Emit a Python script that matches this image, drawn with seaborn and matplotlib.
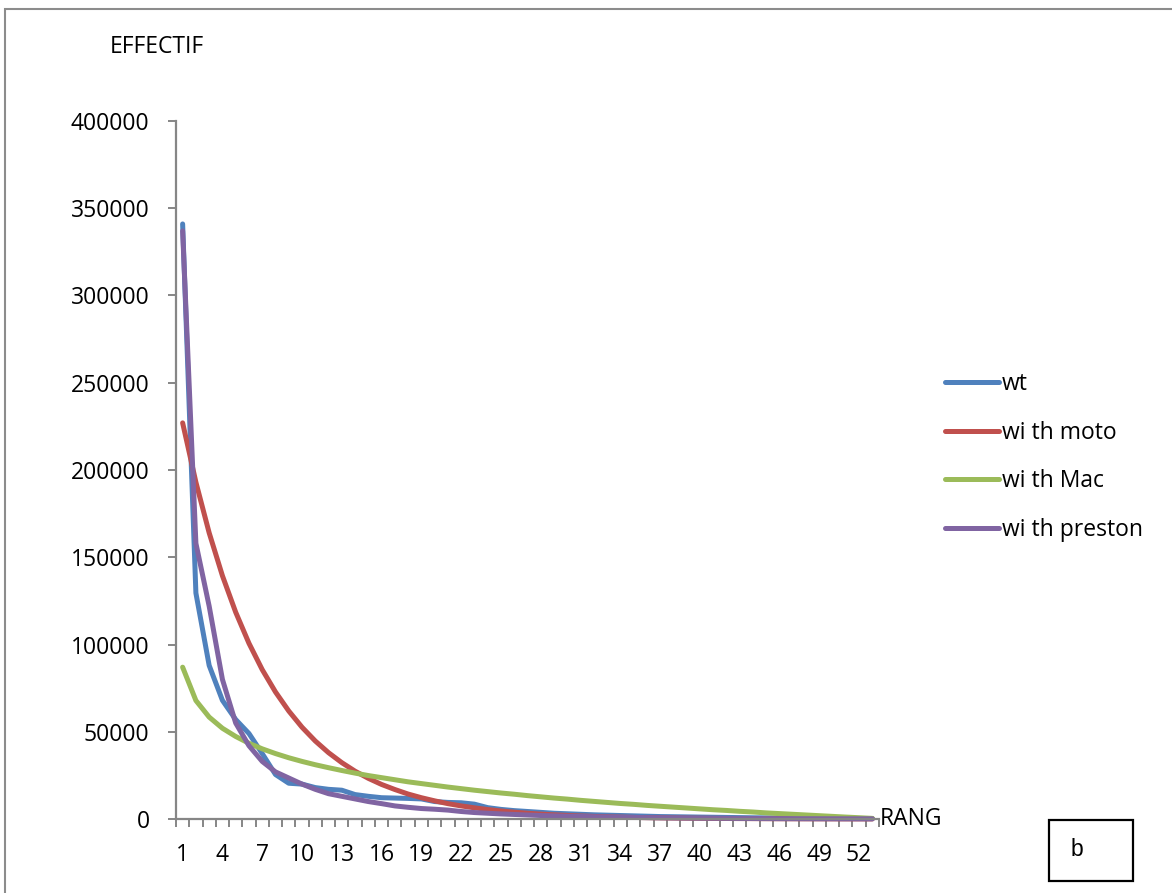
import matplotlib
matplotlib.use("Agg")
import numpy as np
import pandas as pd
import matplotlib.pyplot as plt
import seaborn as sns
from matplotlib.patches import Rectangle

# Rank (category axis)
RANG = list(range(1, 54))

# Observed abundances
WT = [341000, 129500, 88000, 68000, 57000, 49000, 37500, 25500, 20500, 20000,
      18000, 17000, 16500, 14000, 13000, 12200, 12000, 11800, 11500, 10000,
      9500, 9300, 8500, 6500, 5500, 4800, 4300, 3800, 3300, 3000,
      2700, 2400, 2200, 2000, 1800, 1600, 1400, 1300, 1200, 1100,
      1000, 900, 800, 700, 650, 600, 550, 500, 450, 400,
      350, 300, 250]

# Motomura fit
MOTO = [227000, 193000, 164000, 139400, 118500, 100700, 85600, 72800, 61900, 52600,
        44700, 38000, 32300, 27400, 23300, 19800, 16900, 14300, 12200, 10400,
        8800, 7500, 6400, 5400, 4600, 3900, 3300, 2800, 2400, 2040,
        1730, 1470, 1250, 1060, 900, 770, 650, 555, 470, 400,
        340, 290, 245, 210, 178, 151, 128, 109, 93, 79,
        67, 57, 48]

# MacArthur fit
MAC = [87000, 67900, 58400, 52000, 47300, 43400, 40200, 37500, 35100, 33000,
       31100, 29400, 27800, 26300, 24900, 23700, 22500, 21300, 20300, 19300,
       18300, 17400, 16500, 15700, 14900, 14200, 13400, 12700, 12000, 11400,
       10700, 10100, 9500, 8900, 8400, 7800, 7300, 6800, 6300, 5800,
       5300, 4900, 4400, 4000, 3500, 3100, 2700, 2300, 1900, 1500,
       1100, 730, 360]

# Preston fit
PRESTON = [337000, 158000, 122000, 80000, 55000, 42000, 33000, 27000, 23500, 20000,
           17000, 14500, 13000, 11500, 10000, 8800, 7500, 6700, 6000, 5600,
           5100, 4300, 3700, 3300, 2900, 2600, 2300, 2000, 1800, 1600,
           1450, 1300, 1150, 1000, 900, 800, 700, 620, 550, 480,
           420, 370, 320, 280, 250, 220, 190, 170, 150, 130,
           110, 100, 90]

SERIES = ['wt', 'wi th moto', 'wi th Mac', 'wi th preston']
COLORS = ['#4F81BD', '#C0504D', '#9BBB59', '#8064A2']
Y_TICKS = [0, 50000, 100000, 150000, 200000, 250000, 300000, 350000, 400000]
X_TICK_LABELS = list(range(1, 53, 3))

AXIS_GREY = '#868686'
FONT_SIZE = 16.5


def build_frame():
    frames = []
    for name, values in zip(SERIES, [WT, MOTO, MAC, PRESTON]):
        frames.append(pd.DataFrame({'rang': RANG, 'effectif': values, 'serie': name}))
    return pd.concat(frames, ignore_index=True)


def main():
    sns.set_style('white')
    plt.rcParams['font.family'] = ['Open Sans', 'DejaVu Sans']
    plt.rcParams['text.color'] = 'black'

    fig = plt.figure(figsize=(11.72, 8.93), dpi=100)
    ax = fig.add_axes([176 / 1172, 1 - 819 / 893, 703 / 1172, 698 / 893])

    df = build_frame()
    sns.lineplot(data=df, x='rang', y='effectif', hue='serie',
                 palette=dict(zip(SERIES, COLORS)), linewidth=3.6,
                 ax=ax, legend=True)
    for line in ax.get_lines():
        line.set_clip_on(False)
        line.set_solid_capstyle('round')
        line.set_solid_joinstyle('round')

    ax.set_xlim(0.5, 53.5)
    ax.set_ylim(0, 400000)

    # axis styling
    for side in ['top', 'right']:
        ax.spines[side].set_visible(False)
    for side in ['left', 'bottom']:
        ax.spines[side].set_color(AXIS_GREY)
        ax.spines[side].set_linewidth(1.6)

    ax.set_yticks(Y_TICKS)
    ax.set_yticklabels([str(v) for v in Y_TICKS])
    ax.set_xticks(X_TICK_LABELS)
    ax.set_xticklabels([str(v) for v in X_TICK_LABELS])
    ax.set_xticks(np.arange(0.5, 54, 1.0), minor=True)

    ax.tick_params(axis='y', which='major', direction='out', length=6, width=1.4,
                   color=AXIS_GREY, labelcolor='black', pad=13,
                   labelsize=FONT_SIZE, left=True)
    ax.tick_params(axis='x', which='major', length=0, pad=17,
                   labelcolor='black', labelsize=FONT_SIZE)
    ax.tick_params(axis='x', which='minor', direction='out', length=6, width=1.4,
                   color=AXIS_GREY, bottom=True)
    ax.set_xlabel('')
    ax.set_ylabel('')

    # axis titles
    fig.text(110 / 1172, 1 - 47 / 893, 'EFFECTIF', fontsize=FONT_SIZE,
             ha='left', va='center', color='black')
    fig.text(880 / 1172, 1 - 819 / 893, 'RANG', fontsize=FONT_SIZE,
             ha='left', va='center', color='black')

    # legend
    handles, labels = ax.get_legend_handles_labels()
    leg = ax.legend(handles, labels, loc='center left',
                    bbox_to_anchor=(945 / 1172, 1 - 457 / 893),
                    bbox_transform=fig.transFigure, frameon=False,
                    fontsize=FONT_SIZE, handlelength=2.35, handletextpad=0.12,
                    labelspacing=1.08, borderpad=0, borderaxespad=0)
    for text in leg.get_texts():
        text.set_color('black')

    # outer chart border
    fig.patches.append(Rectangle((5 / 1172, -0.1), 1.2, 1 - 9 / 893 + 0.1,
                                 transform=fig.transFigure, fill=False,
                                 edgecolor='#8c8c8c', linewidth=1.5))

    # "b" box
    fig.patches.append(Rectangle((1049 / 1172, 1 - 881 / 893), 84 / 1172, 61 / 893,
                                 transform=fig.transFigure, fill=False,
                                 edgecolor='black', linewidth=1.6))
    fig.text(1077 / 1172, 1 - 850 / 893, 'b', fontsize=FONT_SIZE,
             ha='center', va='center', family='Liberation Sans', color='black')

    fig.savefig('out.png', dpi=100)


if __name__ == "__main__":
    main()
